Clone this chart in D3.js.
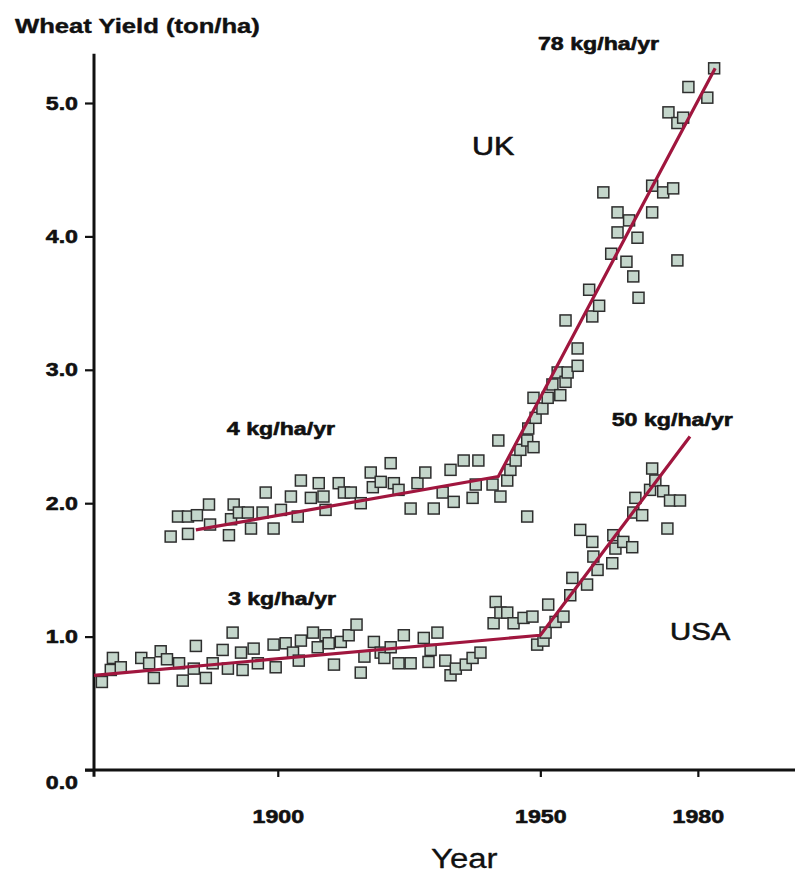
<!DOCTYPE html>
<html>
<head>
<meta charset="utf-8">
<script src="https://cdn.jsdelivr.net/npm/d3@7"></script>
<style>
  html, body { margin: 0; padding: 0; background: #fff; }
  svg { display: block; }
  text { font-family: "Liberation Sans", Arial, sans-serif; fill: #111; }
</style>
</head>
<body>
<svg id="chart" width="795" height="879"></svg>
<script>
// ---------- data ----------
const ukYears = [1879.6,1882.9,1881.0,1882.9,1884.6,1886.9,1887.1,1890.7,1891.1,1891.6,
  1892.6,1894.3,1894.9,1897.1,1897.7,1899.2,1900.6,1902.5,1903.8,1904.4,
  1906.3,1907.8,1908.7,1909.1,1911.6,1912.6,1913.9,1915.8,1917.7,1918.1,
  1919.6,1921.5,1922.1,1923.0,1925.3,1926.6,1928.1,1929.7,1931.4,1932.9,
  1933.5,1935.4,1937.1,1937.7,1938.2,1940.9,1942.0,1942.4,1943.7,1947.5,
  1944.3,1945.3,1946.2,1947.5,1948.7,1947.7,1949.1,1948.7,1950.4,1951.4,
  1952.3,1953.3,1953.8,1954.8,1955.2,1957.1,1957.1,1954.8,1959.9,1961.2,
  1959.3,1968.7,1967.7,1963.5,1966.4,1976.1,1964.7,1968.5,1964.7,1966.9,
  1971.3,1962.0,1971.3,1973.4,1975.3,1974.4,1976.1,1977.2,1978.2,1981.8,1983.1];
const ukYield = [1.75,1.77,1.90,1.90,1.91,1.99,1.84,1.76,1.88,1.99,
  1.93,1.93,1.81,1.93,2.08,1.81,1.95,2.05,1.90,2.17,
  2.04,2.15,2.05,1.95,2.15,2.08,2.08,2.00,2.23,2.12,
  2.16,2.30,2.15,2.10,1.96,2.15,2.23,1.96,2.08,2.25,
  2.01,2.32,2.04,2.14,2.32,2.14,2.47,2.05,2.17,1.90,
  2.25,2.32,2.40,2.47,2.42,2.56,2.64,2.79,2.71,2.79,
  2.89,2.98,2.81,2.91,2.98,3.03,3.16,3.37,3.40,3.48,
  3.60,3.54,3.70,3.87,3.81,3.82,4.03,3.99,4.18,4.12,
  4.18,4.33,4.38,4.33,4.36,4.93,4.85,4.89,5.12,5.04,5.26];

const usaYears = [1866.5,1868.2,1868.6,1870.1,1874.0,1875.5,1876.4,1877.7,1878.9,1881.2,
  1881.9,1884.4,1884.0,1886.3,1887.6,1889.5,1890.5,1891.4,1893.0,1893.3,
  1895.4,1896.2,1899.2,1899.6,1901.5,1902.9,1904.0,1904.4,1906.7,1907.6,
  1909.1,1909.7,1910.7,1912.0,1913.5,1915.0,1915.8,1916.5,1918.3,1919.6,
  1920.3,1921.5,1923.0,1924.0,1925.3,1927.8,1928.7,1929.1,1930.4,1931.9,
  1932.9,1933.9,1935.8,1937.1,1938.6,1941.1,1941.5,1942.4,1943.7,1944.9,
  1946.8,1948.5,1949.4,1950.6,1951.0,1951.5,1952.9,1954.4,1955.7,1956.1,
  1958.9,1960.9,1960.1,1963.7,1957.6,1959.9,1963.9,1964.3,1965.8,1967.5,
  1967.7,1969.4,1968.1,1970.9,1971.3,1971.9,1973.4,1974.7,1976.6,1974.2];
const usaYield = [0.66,0.75,0.84,0.77,0.84,0.80,0.69,0.89,0.83,0.80,
  0.67,0.93,0.76,0.69,0.80,0.90,0.76,1.03,0.88,0.75,
  0.91,0.80,0.94,0.77,0.95,0.88,0.82,0.97,1.03,0.92,
  1.01,0.95,0.79,0.96,1.01,1.09,0.73,0.85,0.96,0.88,
  0.84,0.92,0.80,1.01,0.80,0.99,0.81,0.90,1.03,0.82,
  0.71,0.76,0.79,0.84,0.88,1.10,1.26,1.18,1.18,1.10,
  1.14,1.15,0.94,0.97,1.03,1.24,1.11,1.15,1.31,1.44,
  1.39,1.50,1.60,1.55,1.80,1.71,1.76,1.66,1.71,1.67,
  1.93,1.91,2.04,2.10,2.26,2.17,2.09,2.02,2.02,1.81];

// piecewise trend lines (breakpoints)
const ukTrendYears = [1884.4, 1942.0, 1983.3];
const ukTrendYield = [1.80, 2.20, 5.26];
const usaTrendYears = [1865.0, 1950.0, 1978.5];
const usaTrendYield = [0.71, 1.01, 2.50];

const yTicks = [0, 1, 2, 3, 4, 5];
const xTicks = [1900, 1950, 1980];
const xTickLabels = ["1900", "1950", "1980"];

const titleText = "Wheat Yield (ton/ha)";
const xAxisTitle = "Year";
const rateLabels = ["78 kg/ha/yr", "4 kg/ha/yr", "3 kg/ha/yr", "50 kg/ha/yr"];
const countryLabels = ["UK", "USA"];

// ---------- scales ----------
const svg = d3.select("#chart");
const x = d3.scaleLinear().domain([1865, 1998.5]).range([94, 795]);
const y = d3.scaleLinear().domain([0, 5]).range([770, 103]);
const STRETCH = 1.22; // reference text is horizontally widened

function stretch(sel, f) {
  sel.each(function () {
    const w = this.getComputedTextLength();
    d3.select(this).attr("textLength", w * (f || STRETCH)).attr("lengthAdjust", "spacingAndGlyphs");
  });
}
function heavy(sel, w) {
  sel.attr("stroke", "#111").attr("stroke-width", w).attr("stroke-linejoin", "round");
}

// ---------- axes ----------
const yAxis = d3.axisLeft(y).tickValues(yTicks).tickSize(9).tickPadding(7)
  .tickFormat(d3.format(".1f"));
const gy = svg.append("g").attr("transform", `translate(${x.range()[0]},0)`).call(yAxis);
gy.select(".domain").remove();
gy.selectAll(".tick line").attr("stroke", "#111").attr("stroke-width", 2.2);
gy.selectAll(".tick text")
  .attr("font-size", 19).attr("font-weight", "bold")
  .attr("font-family", "Liberation Sans, Arial, sans-serif").attr("fill", "#111")
  .attr("dy", d => d === 0 ? "0.95em" : "0.32em")
  .call(stretch).call(heavy, 0.6);

const xAxis = d3.axisBottom(x).tickValues(xTicks).tickSize(7).tickPadding(33)
  .tickFormat((d, i) => xTickLabels[i]);
const gx = svg.append("g").attr("transform", `translate(0,${y(0)})`).call(xAxis);
gx.select(".domain").remove();
gx.selectAll(".tick line").attr("stroke", "#111").attr("stroke-width", 2.2);
gx.selectAll(".tick text")
  .attr("font-size", 19).attr("font-weight", "bold")
  .attr("font-family", "Liberation Sans, Arial, sans-serif").attr("fill", "#111")
  .call(stretch).call(heavy, 0.6);

// axis lines
svg.append("line")
  .attr("x1", x.range()[0]).attr("x2", x.range()[0])
  .attr("y1", y(5.37)).attr("y2", y(-0.05))
  .attr("stroke", "#111").attr("stroke-width", 3);
svg.append("line")
  .attr("x1", x.range()[0] - 9).attr("x2", x.range()[1])
  .attr("y1", y(0)).attr("y2", y(0))
  .attr("stroke", "#111").attr("stroke-width", 3);

// ---------- points ----------
const S = 11;
function drawPoints(years, vals) {
  svg.append("g").selectAll("rect")
    .data(years.map((d, i) => ({ year: d, v: vals[i] })))
    .join("rect")
    .attr("x", d => x(d.year) - S / 2)
    .attr("y", d => y(d.v) - S / 2)
    .attr("width", S).attr("height", S)
    .attr("fill", "#c4d6cb")
    .attr("stroke", "#2e2e2e")
    .attr("stroke-width", 1.5);
}
drawPoints(ukYears, ukYield);
drawPoints(usaYears, usaYield);

// ---------- trend lines ----------
const line = d3.line().x(d => x(d[0])).y(d => y(d[1]));
function drawTrend(years, vals) {
  svg.append("path")
    .datum(years.map((d, i) => [d, vals[i]]))
    .attr("d", line)
    .attr("fill", "none")
    .attr("stroke", "#a0163e")
    .attr("stroke-width", 3.2)
    .attr("stroke-linejoin", "round");
}
drawTrend(ukTrendYears, ukTrendYield);
drawTrend(usaTrendYears, usaTrendYield);

// ---------- text ----------
svg.append("text").attr("x", 15).attr("y", 33)
  .attr("font-size", 20.5).attr("font-weight", "bold")
  .text(titleText).call(stretch, 1.25).call(heavy, 0.4);

svg.append("text").attr("x", 431).attr("y", 868)
  .attr("font-size", 27).text(xAxisTitle).call(stretch).call(heavy, 0.3);

const rateAnchors = [[1949.55, 5.40], [1890.3, 2.51], [1890.5, 1.237], [1963.6, 2.579]];
rateLabels.forEach((t, i) => {
  svg.append("text")
    .attr("x", x(rateAnchors[i][0])).attr("y", y(rateAnchors[i][1]))
    .attr("font-size", 19).attr("font-weight", "bold")
    .text(t).call(stretch).call(heavy, 0.6);
});

const countryAnchors = [[1937.0, 4.61], [1974.7, 0.975]];
const countrySizes = [25, 24];
countryLabels.forEach((t, i) => {
  svg.append("text")
    .attr("x", x(countryAnchors[i][0])).attr("y", y(countryAnchors[i][1]))
    .attr("font-size", countrySizes[i])
    .text(t).call(stretch).call(heavy, 0.6);
});
</script>
</body>
</html>
